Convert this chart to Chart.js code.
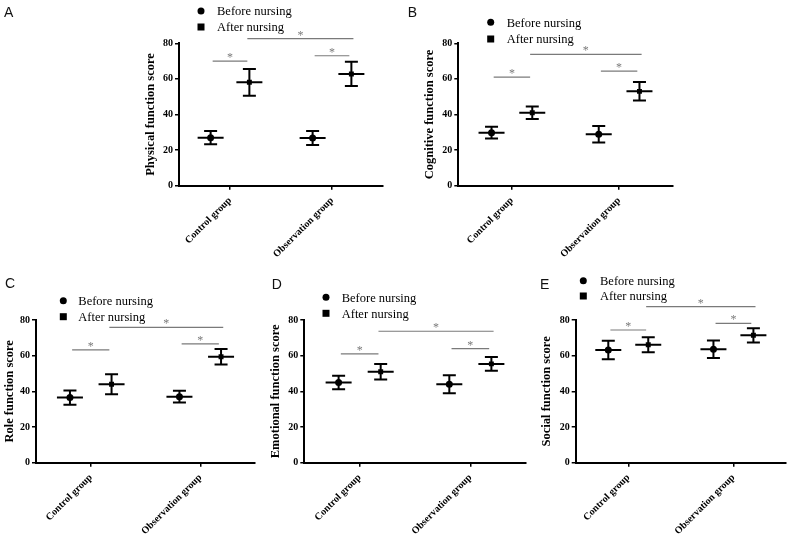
<!DOCTYPE html>
<html>
<head>
<meta charset="utf-8">
<script src="https://cdn.jsdelivr.net/npm/chart.js@4.4.1/dist/chart.umd.min.js"></script>
<style>
  html, body { margin: 0; padding: 0; background: #fff; }
  #wrap { position: relative; width: 795px; height: 540px; overflow: hidden; }
  canvas { position: absolute; }
</style>
</head>
<body>
<div id="wrap"></div>
<script>
const groups = ['Control group', 'Observation group']
const seriesNames = ['Before nursing', 'After nursing']
const panelLetters = ['A', 'B', 'C', 'D', 'E']
const scoreTitles = ['Physical function score', 'Cognitive function score', 'Role function score',
    'Emotional function score', 'Social function score']
const yTicks = [0, 20, 40, 60, 80]

// mean and SD for each panel, [control, observation]
const beforeMean = [[27.0, 26.8], [29.8, 28.9], [36.5, 37.0], [45.0, 44.0], [63.2, 63.6]]
const beforeSD = [[3.7, 4.0], [3.3, 4.6], [4.0, 3.3], [3.8, 5.0], [5.2, 4.9]]
const afterMean = [[58.1, 62.8], [41.0, 53.0], [44.0, 59.4], [51.0, 55.4], [66.1, 71.4]]
const afterSD = [[7.5, 6.8], [3.5, 5.2], [5.6, 4.3], [4.3, 3.8], [4.2, 4.0]]
// significance bars: control pair, observation pair, control after vs observation after
const sigLevels = [[70, 73, 82.6], [61, 64.4, 73.8], [63.2, 66.6, 75.9], [61, 63.9, 73.7], [74.4, 78.1, 87.5]]

// page geometry of every panel (canvas box, plot area, title centre, legend, letter)
const panels = [
    { box: [0, 0, 395, 265], area: [179, 383, 43.3, 185.7], titleX: 150.7, leg: [201, 11, 27, 217], letter: [4, 17] },
    { box: [395, 0, 400, 265], area: [458.3, 672.7, 43.3, 185.7], titleX: 429.7, leg: [490.7, 22.3, 39, 506.7], letter: [407.7, 16.7] },
    { box: [0, 265, 265, 275], area: [36, 255, 320, 462.7], titleX: 9.5, leg: [63.3, 300.7, 316.7, 78.3], letter: [5, 288.3] },
    { box: [265, 265, 265, 275], area: [304.3, 525.7, 320, 462.7], titleX: 276, leg: [326, 297.3, 313.3, 341.7], letter: [271.7, 289.3] },
    { box: [530, 265, 265, 275], area: [575.7, 786, 320, 462.7], titleX: 546.7, leg: [583.3, 280.7, 296, 600], letter: [540, 289.3] }
]

const SHIFT = 0.19
const CAP = 6.5
const MEANW = 13
const SERIF = '"Liberation Serif", "Times New Roman", serif'
const TITLE_SIZE = 12.5

function drawErrorBars(chart, p) {
    let ctx = chart.ctx, xs = chart.scales.x, ys = chart.scales.y
    let sets = [[beforeMean[p], beforeSD[p], -SHIFT], [afterMean[p], afterSD[p], SHIFT]]
    ctx.save()
    ctx.strokeStyle = '#000'
    ctx.lineWidth = 2
    sets.forEach(([mean, sd, dx]) => {
        mean.forEach((v, i) => {
            let x = xs.getPixelForValue(i + 1 + dx)
            let yt = ys.getPixelForValue(v + sd[i])
            let yb = ys.getPixelForValue(v - sd[i])
            let ym = ys.getPixelForValue(v)
            ctx.beginPath()
            ctx.moveTo(x, yt); ctx.lineTo(x, yb)
            ctx.moveTo(x - CAP, yt); ctx.lineTo(x + CAP, yt)
            ctx.moveTo(x - CAP, yb); ctx.lineTo(x + CAP, yb)
            ctx.moveTo(x - MEANW, ym); ctx.lineTo(x + MEANW, ym)
            ctx.stroke()
        })
    })
    ctx.restore()
}

function drawSig(chart, p) {
    let ctx = chart.ctx, xs = chart.scales.x, ys = chart.scales.y
    let [lvC, lvO, lvX] = sigLevels[p]
    let bars = [[1 - 0.17, 1 + 0.17, lvC], [2 - 0.17, 2 + 0.17, lvO], [1 + 0.17, 2 + 0.21, lvX]]
    ctx.save()
    ctx.strokeStyle = '#7a7a7a'
    ctx.fillStyle = '#7a7a7a'
    ctx.lineWidth = 1.2
    ctx.font = '12px ' + SERIF
    ctx.textAlign = 'center'
    ctx.textBaseline = 'alphabetic'
    bars.forEach(([a, b, lv]) => {
        let x1 = xs.getPixelForValue(a), x2 = xs.getPixelForValue(b), y = ys.getPixelForValue(lv)
        ctx.beginPath()
        ctx.moveTo(x1, y); ctx.lineTo(x2, y)
        ctx.stroke()
        ctx.fillText('*', (x1 + x2) / 2, y)
    })
    ctx.restore()
}

function drawLegend(chart, p) {
    let ctx = chart.ctx
    let pn = panels[p], ox = pn.box[0], oy = pn.box[1]
    let [mx, y1, y2, tx] = pn.leg
    ctx.save()
    ctx.fillStyle = '#000'
    ctx.beginPath()
    ctx.arc(mx - ox, y1 - oy, 3.5, 0, Math.PI * 2)
    ctx.fill()
    ctx.fillRect(mx - ox - 3.5, y2 - oy - 3.5, 7, 7)
    ctx.font = '12.5px ' + SERIF
    ctx.textBaseline = 'middle'
    ctx.fillText(seriesNames[0], tx - ox, y1 - oy + 1)
    ctx.fillText(seriesNames[1], tx - ox, y2 - oy + 1)

    ctx.font = '14px "Liberation Sans", Arial, sans-serif'
    ctx.fillStyle = '#111'
    ctx.textBaseline = 'alphabetic'
    ctx.fillText(panelLetters[p], pn.letter[0] - ox, pn.letter[1] - oy)
    ctx.restore()
}

const panelDraw = {
    id: 'panelDraw',
    beforeDatasetsDraw(chart, args, opts) {
        drawErrorBars(chart, opts.idx)
    },
    afterDraw(chart, args, opts) {
        drawSig(chart, opts.idx)
        drawLegend(chart, opts.idx)
    }
}

function makePanel(p) {
    let pn = panels[p]
    let [bx, by, bw, bh] = pn.box
    let [al, ar, at, ab] = pn.area
    let scaleLeft = pn.titleX - TITLE_SIZE * 1.2 / 2
    let yWidth = al - scaleLeft
    let xHeight = by + bh - ab

    let canvas = document.createElement('canvas')
    canvas.width = bw
    canvas.height = bh
    canvas.style.left = bx + 'px'
    canvas.style.top = by + 'px'
    canvas.style.width = bw + 'px'
    canvas.style.height = bh + 'px'
    document.getElementById('wrap').appendChild(canvas)

    let gridOpts = { display: true, drawOnChartArea: false, drawTicks: true, tickLength: 4, color: '#000', lineWidth: 1.5 }
    let borderOpts = { display: true, color: '#000', width: 2 }

    return new Chart(canvas.getContext('2d'), {
        type: 'scatter',
        data: {
            datasets: [
                {
                    label: seriesNames[0],
                    data: beforeMean[p].map((v, i) => ({ x: i + 1 - SHIFT, y: v })),
                    pointStyle: 'circle',
                    pointRadius: 3.5,
                    backgroundColor: '#000',
                    borderColor: '#000',
                    borderWidth: 0
                },
                {
                    label: seriesNames[1],
                    data: afterMean[p].map((v, i) => ({ x: i + 1 + SHIFT, y: v })),
                    pointStyle: 'rect',
                    pointRadius: 3.5,
                    backgroundColor: '#000',
                    borderColor: '#000',
                    borderWidth: 0
                }
            ]
        },
        options: {
            responsive: false,
            animation: false,
            devicePixelRatio: 1,
            layout: {
                padding: { left: scaleLeft - bx, right: bx + bw - ar, top: at - by, bottom: 0 }
            },
            plugins: {
                legend: { display: false },
                tooltip: { enabled: false },
                panelDraw: { idx: p }
            },
            scales: {
                x: {
                    type: 'linear',
                    min: 0.5,
                    max: 2.5,
                    afterBuildTicks: (s) => { s.ticks = [{ value: 1 }, { value: 2 }] },
                    afterFit: (s) => { s.height = xHeight },
                    grid: gridOpts,
                    border: borderOpts,
                    ticks: {
                        minRotation: 45,
                        maxRotation: 45,
                        padding: 5,
                        color: '#000',
                        font: { family: SERIF, size: 10, weight: 'bold' },
                        callback: (v) => groups[v - 1]
                    }
                },
                y: {
                    min: 0,
                    max: 80,
                    afterBuildTicks: (s) => { s.ticks = yTicks.map(v => ({ value: v })) },
                    afterFit: (s) => { s.width = yWidth },
                    grid: gridOpts,
                    border: borderOpts,
                    ticks: {
                        padding: 2,
                        color: '#000',
                        font: { family: SERIF, size: 10, weight: 'bold' }
                    },
                    title: {
                        display: true,
                        text: scoreTitles[p],
                        color: '#000',
                        padding: 0,
                        font: { family: SERIF, size: TITLE_SIZE, weight: 'bold' }
                    }
                }
            }
        },
        plugins: [panelDraw]
    })
}

panels.forEach((pn, p) => makePanel(p))
</script>
</body>
</html>
